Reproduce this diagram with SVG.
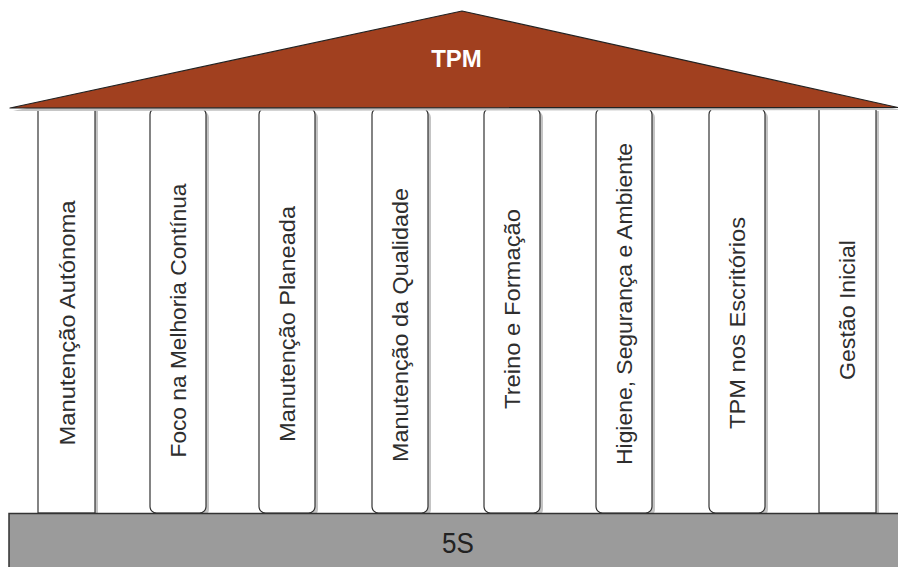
<svg xmlns="http://www.w3.org/2000/svg" width="898" height="567" viewBox="0 0 898 567">
  <style>
    .shadow { fill: #c4c4c4; stroke: none; }
    .pillar { fill: #ffffff; stroke: #333333; stroke-width: 1.2; }
    .label { font-family: "Liberation Sans", Arial, sans-serif; font-size: 21.5px; fill: #2e2e2e; text-anchor: middle; }
    .roof { fill: #a1401f; stroke: #222222; stroke-width: 1.2; stroke-linejoin: round; }
    .base { fill: #9b9b9b; stroke: #333333; stroke-width: 1.5; }
  </style>
  <defs>
    <!-- square pillar and rounded pillar outlines, spanning roof to base -->
    <rect id="sq" x="0" y="108" width="57" height="405"/>
    <rect id="rd" x="0" y="108" width="56" height="405" rx="6.5" ry="6.5"/>
    <clipPath id="band"><rect x="0" y="108" width="898" height="405"/></clipPath>
  </defs>

  <rect width="898" height="567" fill="#ffffff"/>

  <!-- pillars -->
  <g clip-path="url(#band)">
    <g id="pillar-manutencao-autonoma">
      <use href="#sq" x="41" y="3" class="shadow"/>
      <use href="#sq" x="38" class="pillar"/>
      <text class="label" transform="translate(74.5,323) rotate(-90)" textLength="245" lengthAdjust="spacingAndGlyphs">Manutenção Autónoma</text>
    </g>
    <g id="pillar-foco-melhoria">
      <use href="#rd" x="153" y="3" class="shadow"/>
      <use href="#rd" x="150" class="pillar"/>
      <text class="label" transform="translate(185.5,320.5) rotate(-90)" textLength="274" lengthAdjust="spacingAndGlyphs">Foco na Melhoria Contínua</text>
    </g>
    <g id="pillar-manutencao-planeada">
      <use href="#rd" x="262" y="3" class="shadow"/>
      <use href="#rd" x="259" class="pillar"/>
      <text class="label" transform="translate(295,324) rotate(-90)" textLength="236" lengthAdjust="spacingAndGlyphs">Manutenção Planeada</text>
    </g>
    <g id="pillar-manutencao-qualidade">
      <use href="#rd" x="375" y="3" class="shadow"/>
      <use href="#rd" x="372" class="pillar"/>
      <text class="label" transform="translate(407.5,325) rotate(-90)" textLength="274" lengthAdjust="spacingAndGlyphs">Manutenção da Qualidade</text>
    </g>
    <g id="pillar-treino-formacao">
      <use href="#rd" x="487" y="3" class="shadow"/>
      <use href="#rd" x="484" class="pillar"/>
      <text class="label" transform="translate(519.5,309) rotate(-90)" textLength="200" lengthAdjust="spacingAndGlyphs">Treino e Formação</text>
    </g>
    <g id="pillar-higiene-seguranca">
      <use href="#rd" x="599" y="3" class="shadow"/>
      <use href="#rd" x="596" class="pillar"/>
      <text class="label" transform="translate(632,304) rotate(-90)" textLength="322" lengthAdjust="spacingAndGlyphs">Higiene, Segurança e Ambiente</text>
    </g>
    <g id="pillar-tpm-escritorios">
      <use href="#rd" x="712" y="3" class="shadow"/>
      <use href="#rd" x="709" class="pillar"/>
      <text class="label" transform="translate(744.5,323) rotate(-90)" textLength="212" lengthAdjust="spacingAndGlyphs">TPM nos Escritórios</text>
    </g>
    <g id="pillar-gestao-inicial">
      <use href="#sq" x="822" y="3" class="shadow"/>
      <use href="#sq" x="819" class="pillar"/>
      <text class="label" transform="translate(855,310) rotate(-90)" textLength="140" lengthAdjust="spacingAndGlyphs">Gestão Inicial</text>
    </g>
  </g>

  <!-- roof -->
  <g id="roof">
    <polygon class="shadow" points="13,111 464,14 901,110"/>
    <polygon class="roof" points="10,108 462,11 898,107.5"/>
    <text x="456.5" y="67" font-family="'Liberation Sans', Arial, sans-serif" font-size="24" font-weight="bold" fill="#ffffff" text-anchor="middle">TPM</text>
  </g>

  <!-- foundation -->
  <g id="base-5s">
    <rect class="base" x="9" y="513.5" width="895" height="60"/>
    <text transform="translate(458,553) scale(1,1.1)" font-family="'Liberation Sans', Arial, sans-serif" font-size="26" fill="#222222" text-anchor="middle">5S</text>
  </g>
</svg>
